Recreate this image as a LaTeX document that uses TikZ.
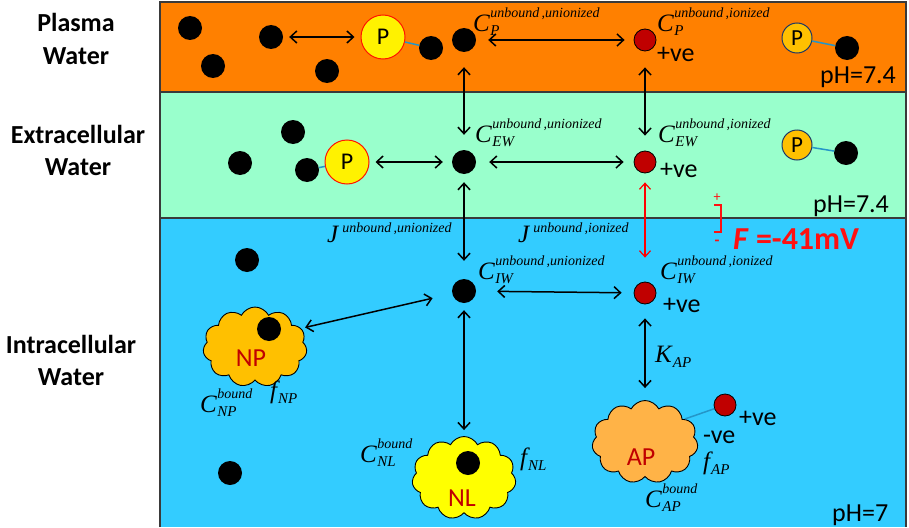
\documentclass[tikz,border=0pt]{standalone}
\usepackage{fontspec}
\setmainfont{Carlito}
\newfontfamily\tnr{Liberation Serif}
\usetikzlibrary{arrows.meta,shapes.symbols}

\definecolor{plasma}{HTML}{FF8000}
\definecolor{extra}{HTML}{99FFCC}
\definecolor{intra}{HTML}{33CCFF}
\definecolor{ion}{HTML}{C00000}
\definecolor{bond}{HTML}{2496C8}
\definecolor{pgold}{HTML}{FFC000}
\definecolor{pnavy}{HTML}{1F3864}
\definecolor{frame}{HTML}{3A3A3A}
\definecolor{apfill}{HTML}{FFB347}
\definecolor{npfill}{HTML}{FFC000}
\definecolor{nlfill}{HTML}{FFFF00}
\definecolor{potred}{HTML}{FF1010}

% italic symbol with stacked super- and subscript
\newcommand\supsz{\fontsize{14}{14}\selectfont}
\newcommand\subsz{\fontsize{15}{15}\selectfont}
\newcommand\Cv[3]{{\tnr\itshape\fontsize{25}{25}\selectfont #1\kern0.5pt\makebox[0pt][l]{\raisebox{14pt}{\supsz #2}}\raisebox{-4pt}{\subsz #3}}}
\newcommand\Jv[1]{{\tnr\itshape\fontsize{25}{25}\selectfont J\kern4pt\raisebox{10pt}{\supsz #1}}}
\newcommand\Sv[2]{{\tnr\itshape\fontsize{25}{25}\selectfont #1\kern1pt\raisebox{-5pt}{\subsz #2}}}

\begin{document}
\begin{tikzpicture}[x=1pt,y=-1pt,
  mol/.style={circle, fill=black, minimum size=24pt, inner sep=0pt},
  ionmol/.style={circle, fill=ion, draw=black, line width=0.8pt, minimum size=22pt, inner sep=0pt},
  protein/.style={circle, fill=yellow, draw=red!85!orange, line width=1pt, minimum size=44pt, inner sep=0pt, font=\fontsize{24}{24}\selectfont},
  smallp/.style={circle, fill=pgold, draw=pnavy, line width=1pt, minimum size=30pt, inner sep=0pt, font=\fontsize{23}{23}\selectfont},
  cloudy/.style={cloud, cloud puffs=11, cloud puff arc=125, aspect=1.3, draw=black, line width=0.9pt, minimum width=104pt, minimum height=80pt, inner sep=0pt},
  cloudtxt/.style={inner sep=0pt, text=ion, font=\fontsize{26}{26}\selectfont},
  flux/.style={{Straight Barb[length=6.5pt,width=12pt]}-{Straight Barb[length=6.5pt,width=12pt]}, line width=1.5pt, black},
  redflux/.style={{Straight Barb[length=6pt,width=11pt]}-{Straight Barb[length=6pt,width=11pt]}, line width=1.2pt, red},
  bondline/.style={bond, line width=1.5pt},
  lbl/.style={inner sep=0pt, anchor=base west},
  big/.style={inner sep=0pt, anchor=base, font=\fontsize{26}{26}\selectfont\bfseries},
  txt/.style={inner sep=0pt, anchor=base west, font=\fontsize{26}{26}\selectfont},
]
\useasboundingbox (0,0) rectangle (909,527);

% compartments
\fill[plasma] (160,2) rectangle (906,92);
\fill[extra] (160,92) rectangle (906,218);
\fill[intra] (160,218) rectangle (906,527);
\draw[frame, line width=1.5pt] (160,527) -- (160,2) -- (906,2) -- (906,527);
\draw[frame, line width=1.5pt] (160,92) -- (906,92) (160,218) -- (906,218);

% compartment names
\node[big] (plA) at (76,32) {Plasma};
\node[big] (plB) at (76,64) {Water};
\node[big] (exA) at (78,143) {Extracellular};
\node[big] (exB) at (78,175) {Water};
\node[big] (inA) at (71,353) {Intracellular};
\node[big] (inB) at (71,385) {Water};

% ---- plasma water
\node[mol] (fp1) at (190,28) {};
\node[mol] (fp2) at (213,66) {};
\node[mol] (fp3) at (271,37) {};
\node[mol] (fp4) at (327,71) {};
\node[protein] (pP) at (383,37) {P};
\node[mol] (pPd) at (431,48) {};
\node[mol] (pU) at (464,40) {};
\node[ionmol] (pI) at (645,40) {};
\node[smallp] (pQ) at (797,38) {P};
\node[mol] (pQd) at (847,48) {};
\draw[bondline] (pP) -- (pPd);
\draw[bondline] (pQ) -- (pQd);
\draw[flux, shorten <=6pt, shorten >=6pt] (fp3) -- (pP);
\draw[flux, shorten <=12pt, shorten >=9pt] (pU) -- (pI);
\node[lbl] (cpU) at (473,32) {\Cv{C}{unbound\,,unionized}{P}};
\node[lbl] (cpI) at (657,32) {\Cv{C}{unbound\,,ionized}{P}};
\node[txt] (pVe) at (657,62) {+ve};
\node[txt] (pH1) at (820,83) {pH=7.4};

% ---- extracellular water
\node[mol] (e1) at (240,163) {};
\node[mol] (e2) at (293,132) {};
\node[mol] (e3) at (307,170) {};
\node[protein] (eP) at (347,162) {P};
\node[mol] (eU) at (464,162) {};
\node[ionmol] (eI) at (645,162) {};
\node[smallp] (eQ) at (797,145) {P};
\node[mol] (eQd) at (846,153) {};
\draw[bondline] (eP) -- (e3);
\draw[bondline] (eQ) -- (eQd);
\draw[flux, shorten <=6pt, shorten >=9pt] (eP) -- (eU);
\draw[flux, shorten <=13pt, shorten >=10pt] (eU) -- (eI);
\draw[flux, shorten <=15pt, shorten >=15pt] (pU) -- (eU);
\draw[flux, shorten <=16pt, shorten >=15pt] (pI) -- (eI);
\node[lbl] (ceU) at (475,142) {\Cv{C}{unbound\,,unionized}{EW}};
\node[lbl] (ceI) at (658,142) {\Cv{C}{unbound\,,ionized}{EW}};
\node[txt] (eVe) at (660,177) {+ve};
\node[txt] (pH2) at (813,212) {pH=7.4};

% membrane potential
\draw[potred, line width=2.5pt] (714,205) -- (721,205) -- (721,232) -- (714,232);
\node[inner sep=0pt, text=potred, font=\fontsize{14}{14}\selectfont] (plus) at (717,198) {+};
\node[inner sep=0pt, text=potred, font=\fontsize{16}{16}\selectfont\bfseries] (minus) at (717,243) {-};
\node[lbl, text=potred, font=\fontsize{32}{32}\selectfont\bfseries] (pot) at (733,249) {\textit{F} =-41mV};

% ---- intracellular water
\node[mol] (i1) at (247,260) {};
\node[mol] (i2) at (230,473) {};
\node[mol] (iU) at (464,291) {};
\node[ionmol] (iI) at (645,293) {};

\node[cloudy, fill=npfill] (np) at (255,347) {};
\node[mol] (npd) at (269,329) {};
\node[cloudtxt] (npt) at (251,358) {NP};

\node[cloudy, fill=nlfill, minimum height=83pt] (nl) at (464,478) {};
\node[mol] (nld) at (468,463) {};
\node[cloudtxt] (nlt) at (462,498) {NL};

\node[cloudy, fill=apfill, minimum height=83pt, minimum width=106pt] (ap) at (645,442) {};
\node[cloudtxt] (apt) at (641,457) {AP};
\node[ionmol] (apI) at (725,405) {};
\draw[bondline] (ap.30) -- (apI);

\draw[flux, shorten <=8pt, shorten >=18pt] (eU) -- (iU);
\draw[redflux, shorten <=9pt, shorten >=24pt] (eI) -- (iI);
\draw[flux, shorten <=21pt, shorten >=12pt] (iU) -- (iI);
\draw[flux, shorten <=20pt, shorten >=4pt] (iU) -- (np.22);
\draw[flux, shorten <=7pt, shorten >=6pt] (iU) -- (nl);
\draw[flux, shorten <=14pt, shorten >=12pt] (iI) -- (ap);

\node[lbl] (jU) at (327,242) {\Jv{unbound\,,unionized}};
\node[lbl] (jI) at (518,242) {\Jv{unbound\,,ionized}};
\node[lbl] (ciU) at (478,279) {\Cv{C}{unbound\,,unionized}{IW}};
\node[lbl] (ciI) at (660,279) {\Cv{C}{unbound\,,ionized}{IW}};
\node[txt] (iVe) at (663,312) {+ve};
\node[lbl] (kap) at (655,362) {\Sv{K}{AP}};

\node[lbl] (cnp) at (200,412) {\Cv{C}{bound}{NP}};
\node[lbl] (fnp) at (270,398) {\Sv{f}{NP}};
\node[lbl] (cnl) at (360,462) {\Cv{C}{bound}{NL}};
\node[lbl] (fnl) at (520,465) {\Sv{f}{NL}};
\node[lbl] (cap) at (645,507) {\Cv{C}{bound}{AP}};
\node[lbl] (fap) at (703,469) {\Sv{f}{AP}};
\node[txt] (apPos) at (739,425) {+ve};
\node[txt] (apNeg) at (703,443) {-ve};
\node[txt] (pH3) at (832,521) {pH=7};
\end{tikzpicture}
\end{document}
